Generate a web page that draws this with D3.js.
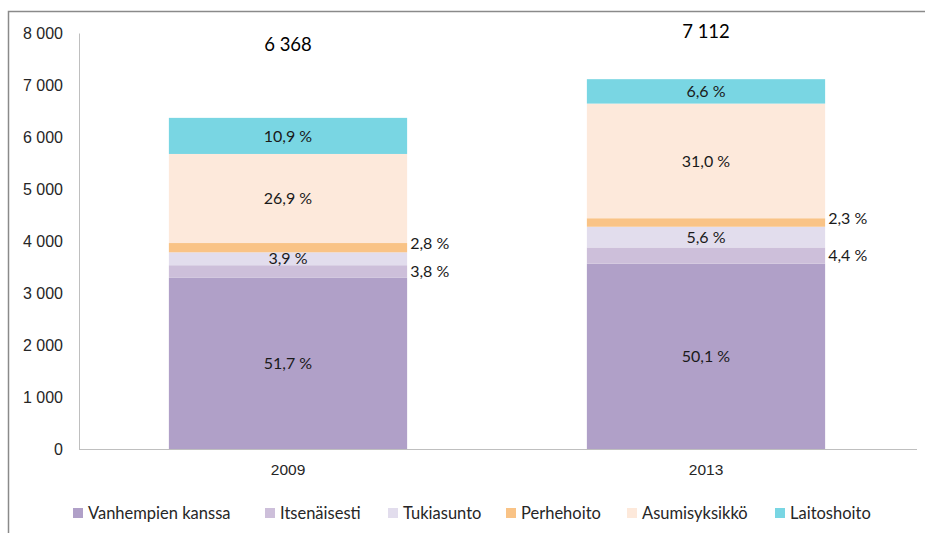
<!DOCTYPE html>
<html>
<head>
<meta charset="utf-8">
<script src="https://cdn.jsdelivr.net/npm/d3@7"></script>
<style>
  body { margin: 0; background: #fff; }
  svg { font-family: Lato, "Open Sans", sans-serif; }
</style>
</head>
<body>
<svg id="chart" width="925" height="533"></svg>
<script>
// data
var years = ['2009', '2013'];
var totals = [6368, 7112];
var groups = ['Vanhempien kanssa', 'Itsenäisesti', 'Tukiasunto', 'Perhehoito', 'Asumisyksikkö', 'Laitoshoito'];
var pct2009 = [51.7, 3.8, 3.9, 2.8, 26.9, 10.9];
var pct2013 = [50.1, 4.4, 5.6, 2.3, 31.0, 6.6];
var yTicks = [0, 1000, 2000, 3000, 4000, 5000, 6000, 7000, 8000];

var colors = ['#b0a0c8', '#cdbfda', '#e2dded', '#f9c386', '#fde9db', '#79d6e3'];
var outside = [false, true, false, true, false, false]; // small slices labelled to the right

var svg = d3.select('#chart');
var margin = {left: 79, right: 10, top: 33, bottom: 84};
var W = 925, H = 533;

function spaced(d) { return d3.format(',')(d).replace(',', ' '); }

// outer frame
svg.append('rect')
    .attr('x', 8.5).attr('y', 11.5)
    .attr('width', 1000).attr('height', 600)
    .attr('fill', 'none').attr('stroke', '#8a8a8a').attr('stroke-width', 1.5);

var x = d3.scaleBand().domain(years).range([margin.left, W - margin.right]).paddingInner(0.43).paddingOuter(0.215);
var y = d3.scaleLinear().domain([0, 8000]).range([H - margin.bottom, margin.top]);

var rows = years.map(function (yr, i) {
    var p = i == 0 ? pct2009 : pct2013;
    var r = {year: yr};
    groups.forEach(function (g, j) { r[g] = totals[i] * p[j] / 100; r[g + '_p'] = p[j]; });
    return r;
});
var stack = d3.stack().keys(groups)(rows);

// y axis
var yAxis = svg.append('g')
    .attr('transform', 'translate(' + margin.left + ',0)')
    .call(d3.axisLeft(y).tickValues(yTicks).tickSize(0).tickPadding(16).tickFormat(spaced));
yAxis.select('.domain').attr('stroke', '#bfbfbf');
yAxis.selectAll('text').attr('font-size', 16).attr('fill', '#262626');

// bars
var layer = svg.selectAll('.layer').data(stack).enter().append('g')
    .attr('fill', function (d, i) { return colors[i]; });
layer.selectAll('rect').data(function (d) { return d; }).enter().append('rect')
    .attr('x', function (d) { return x(d.data.year); })
    .attr('width', x.bandwidth())
    .attr('y', function (d) { return y(d[1]); })
    .attr('height', function (d) { return y(d[0]) - y(d[1]); });

// x axis
var xAxis = svg.append('g')
    .attr('transform', 'translate(0,' + (H - margin.bottom) + ')')
    .call(d3.axisBottom(x).tickSize(0).tickPadding(15));
xAxis.select('.domain').attr('stroke', '#bfbfbf').attr('d', 'M' + margin.left + ',0.5H' + (W - margin.right + 2));
xAxis.selectAll('text').attr('font-size', 15.5).attr('fill', '#262626');

// percentage labels
stack.forEach(function (s, i) {
    svg.append('g').selectAll('text').data(s).enter().append('text')
        .attr('x', function (d) { return outside[i] ? x(d.data.year) + x.bandwidth() + 3 : x(d.data.year) + x.bandwidth() / 2; })
        .attr('y', function (d) { return (y(d[0]) + y(d[1])) / 2 + (outside[i] && i == 3 ? -4 : 0); })
        .attr('dy', '0.35em')
        .attr('text-anchor', outside[i] ? 'start' : 'middle')
        .attr('font-size', 16).attr('fill', '#1a1a1a')
        .text(function (d) { return d3.format('.1f')(d.data[s.key + '_p']).replace('.', ',') + ' %'; });
});

// totals above the bars
var totalAt = [7770, 8020];
svg.append('g').selectAll('text').data(totals).enter().append('text')
    .attr('x', function (d, i) { return x(years[i]) + x.bandwidth() / 2; })
    .attr('y', function (d, i) { return y(totalAt[i]); })
    .attr('dy', '0.35em')
    .attr('text-anchor', 'middle')
    .attr('font-size', 18.5).attr('fill', '#000')
    .text(spaced);

// legend
var legendX = [73, 265, 388, 506, 627, 775];
var lg = svg.append('g').selectAll('g').data(groups).enter().append('g')
    .attr('transform', function (d, i) { return 'translate(' + legendX[i] + ',508)'; });
lg.append('rect').attr('width', 10).attr('height', 10).attr('fill', function (d, i) { return colors[i]; });
lg.append('text').attr('x', 15).attr('y', 5).attr('dy', '0.35em')
    .attr('font-size', 16.5).attr('fill', '#262626')
    .text(function (d) { return d; });
</script>
</body>
</html>
